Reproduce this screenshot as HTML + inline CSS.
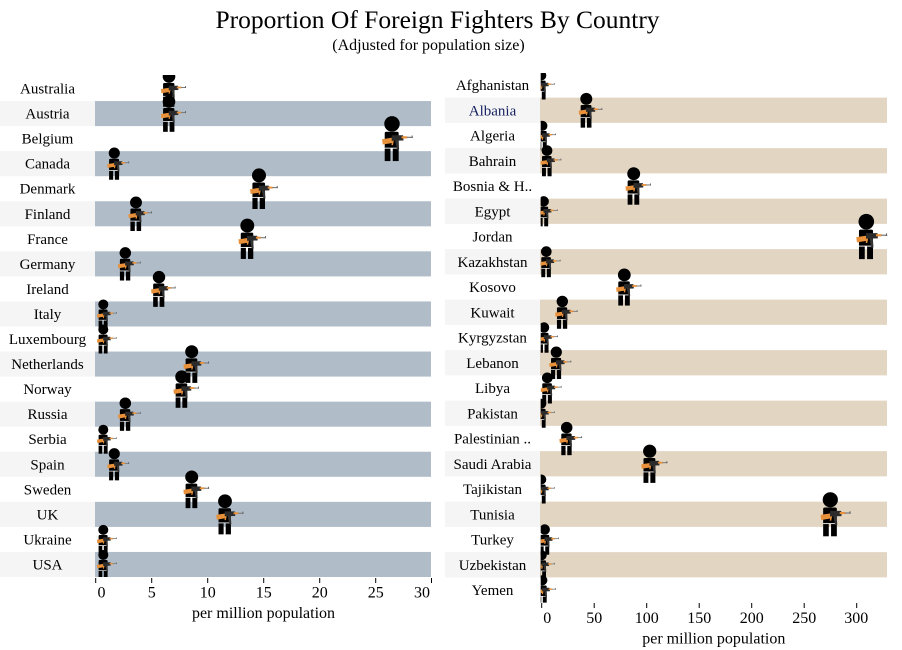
<!DOCTYPE html>
<html>
<head>
<meta charset="utf-8">
<style>
html,body{margin:0;padding:0;background:#fff;}
svg{display:block;}
text{font-family:"Liberation Serif","Times New Roman",serif;fill:#000;}
.lab{font-size:15px;text-anchor:middle;}
.tk{font-size:16px;text-anchor:middle;}
</style>
</head>
<body>
<svg width="902" height="650" viewBox="0 0 902 650" xmlns="http://www.w3.org/2000/svg">
<defs>
  <g id="fig">
    <circle cx="0" cy="-0.95" r="0.5" fill="#000"/>
    <path d="M-0.47,-0.34 Q-0.47,-0.44 -0.37,-0.44 L0.33,-0.44 Q0.43,-0.44 0.43,-0.34 L0.43,0.6 L-0.47,0.6 Z" fill="#000"/>
    <rect x="-0.47" y="0.64" width="0.37" height="0.81" fill="#000"/>
    <rect x="0.05" y="0.64" width="0.38" height="0.81" fill="#000"/>
    <rect x="-0.47" y="0.59" width="0.9" height="0.055" fill="#fff"/>
    <polygon points="-0.64,0.04 0.02,-0.06 0.02,0.28 -0.6,0.38" fill="#e8913a"/>
    <path d="M-0.02,-0.22 L0.7,-0.22 L0.74,-0.14 L0.74,0.12 L-0.02,0.14 Z" fill="#2b2b2b"/>
    <rect x="0.62" y="-0.15" width="0.36" height="0.14" fill="#e8913a"/>
    <rect x="0.96" y="-0.12" width="0.38" height="0.08" fill="#7a7a7a"/>
    <rect x="1.27" y="-0.2" width="0.06" height="0.16" fill="#555"/>
    <path d="M0.2,0.12 L0.42,0.12 L0.46,0.7 L0.32,0.72 Z" fill="#333"/>
    <polygon points="0.02,0.14 0.12,0.14 0.06,0.42 -0.04,0.42" fill="#e8913a"/>
  </g>
  <clipPath id="cl"><rect x="95" y="75" width="337" height="502"/></clipPath>
  <clipPath id="cr"><rect x="540.7" y="73" width="347" height="529.6"/></clipPath>
</defs>

<!-- Titles -->
<text x="437.5" y="28" style="font-size:25.5px" text-anchor="middle">Proportion Of Foreign Fighters By Country</text>
<text x="428.5" y="50" style="font-size:16px" text-anchor="middle">(Adjusted for population size)</text>

<!-- LEFT CHART -->
<g fill="#f5f5f5">
  <rect x="0" y="101.05" width="95" height="25.05"/>
  <rect x="0" y="151.15" width="95" height="25.05"/>
  <rect x="0" y="201.25" width="95" height="25.05"/>
  <rect x="0" y="251.35" width="95" height="25.05"/>
  <rect x="0" y="301.45" width="95" height="25.05"/>
  <rect x="0" y="351.55" width="95" height="25.05"/>
  <rect x="0" y="401.65" width="95" height="25.05"/>
  <rect x="0" y="451.75" width="95" height="25.05"/>
  <rect x="0" y="501.85" width="95" height="25.05"/>
  <rect x="0" y="551.95" width="95" height="25.05"/>
</g>
<g fill="#b0bcc8">
  <rect x="95" y="101.05" width="336" height="25.05"/>
  <rect x="95" y="151.15" width="336" height="25.05"/>
  <rect x="95" y="201.25" width="336" height="25.05"/>
  <rect x="95" y="251.35" width="336" height="25.05"/>
  <rect x="95" y="301.45" width="336" height="25.05"/>
  <rect x="95" y="351.55" width="336" height="25.05"/>
  <rect x="95" y="401.65" width="336" height="25.05"/>
  <rect x="95" y="451.75" width="336" height="25.05"/>
  <rect x="95" y="501.85" width="336" height="25.05"/>
  <rect x="95" y="551.95" width="336" height="25.05"/>
</g>
<g class="lab">
  <text class="lab" x="47.5" y="93.5">Australia</text>
  <text class="lab" x="47.5" y="118.55">Austria</text>
  <text class="lab" x="47.5" y="143.6">Belgium</text>
  <text class="lab" x="47.5" y="168.65">Canada</text>
  <text class="lab" x="47.5" y="193.7">Denmark</text>
  <text class="lab" x="47.5" y="218.75">Finland</text>
  <text class="lab" x="47.5" y="243.8">France</text>
  <text class="lab" x="47.5" y="268.85">Germany</text>
  <text class="lab" x="47.5" y="293.9">Ireland</text>
  <text class="lab" x="47.5" y="318.95">Italy</text>
  <text class="lab" x="47.5" y="344">Luxembourg</text>
  <text class="lab" x="47.5" y="369.05">Netherlands</text>
  <text class="lab" x="47.5" y="394.1">Norway</text>
  <text class="lab" x="47.5" y="419.15">Russia</text>
  <text class="lab" x="47.5" y="444.2">Serbia</text>
  <text class="lab" x="47.5" y="469.25">Spain</text>
  <text class="lab" x="47.5" y="494.3">Sweden</text>
  <text class="lab" x="47.5" y="519.35">UK</text>
  <text class="lab" x="47.5" y="544.4">Ukraine</text>
  <text class="lab" x="47.5" y="569.45">USA</text>
</g>
<g clip-path="url(#cl)">
  <use href="#fig" transform="translate(169,88.5) scale(12.6)"/>
  <use href="#fig" transform="translate(169,113.55) scale(12.6)"/>
  <use href="#fig" transform="translate(392,138.6) scale(15.5)"/>
  <use href="#fig" transform="translate(114.3,163.65) scale(11.1)"/>
  <use href="#fig" transform="translate(259,188.7) scale(14)"/>
  <use href="#fig" transform="translate(136,213.75) scale(11.9)"/>
  <use href="#fig" transform="translate(247.3,238.8) scale(13.9)"/>
  <use href="#fig" transform="translate(125.3,263.85) scale(11.5)"/>
  <use href="#fig" transform="translate(159,288.9) scale(12.4)"/>
  <use href="#fig" transform="translate(103.3,313.95) scale(10)"/>
  <use href="#fig" transform="translate(103.3,339) scale(10)"/>
  <use href="#fig" transform="translate(191.7,364.05) scale(13)"/>
  <use href="#fig" transform="translate(181.7,389.1) scale(12.9)"/>
  <use href="#fig" transform="translate(125.3,414.15) scale(11.5)"/>
  <use href="#fig" transform="translate(103.3,439.2) scale(10)"/>
  <use href="#fig" transform="translate(114.3,464.25) scale(11.1)"/>
  <use href="#fig" transform="translate(191.7,489.3) scale(13)"/>
  <use href="#fig" transform="translate(225,514.35) scale(13.8)"/>
  <use href="#fig" transform="translate(103.3,539.4) scale(10)"/>
  <use href="#fig" transform="translate(103.3,564.45) scale(10)"/>
</g>
<g stroke="#000" stroke-width="1">
  <line x1="95.7" y1="578" x2="95.7" y2="583"/>
  <line x1="151.7" y1="578" x2="151.7" y2="583"/>
  <line x1="207.7" y1="578" x2="207.7" y2="583"/>
  <line x1="263.7" y1="578" x2="263.7" y2="583"/>
  <line x1="319.7" y1="578" x2="319.7" y2="583"/>
  <line x1="375.7" y1="578" x2="375.7" y2="583"/>
  <line x1="431.5" y1="578" x2="431.5" y2="583"/>
</g>
<text class="tk" x="97.5" y="597.5" text-anchor="start" style="text-anchor:start">0</text>
<text class="tk" x="151.7" y="597.5">5</text>
<text class="tk" x="207.7" y="597.5">10</text>
<text class="tk" x="263.7" y="597.5">15</text>
<text class="tk" x="319.7" y="597.5">20</text>
<text class="tk" x="375.7" y="597.5">25</text>
<text class="tk" x="430" y="597.5" style="text-anchor:end">30</text>
<text class="tk" x="263.5" y="618">per million population</text>

<!-- RIGHT CHART -->
<g fill="#f5f5f5">
  <rect x="445" y="97.625" width="95" height="25.25"/>
  <rect x="445" y="148.125" width="95" height="25.25"/>
  <rect x="445" y="198.625" width="95" height="25.25"/>
  <rect x="445" y="249.125" width="95" height="25.25"/>
  <rect x="445" y="299.625" width="95" height="25.25"/>
  <rect x="445" y="350.125" width="95" height="25.25"/>
  <rect x="445" y="400.625" width="95" height="25.25"/>
  <rect x="445" y="451.125" width="95" height="25.25"/>
  <rect x="445" y="501.625" width="95" height="25.25"/>
  <rect x="445" y="552.125" width="95" height="25.25"/>
</g>
<g fill="#e2d6c3">
  <rect x="540" y="97.625" width="347" height="25.25"/>
  <rect x="540" y="148.125" width="347" height="25.25"/>
  <rect x="540" y="198.625" width="347" height="25.25"/>
  <rect x="540" y="249.125" width="347" height="25.25"/>
  <rect x="540" y="299.625" width="347" height="25.25"/>
  <rect x="540" y="350.125" width="347" height="25.25"/>
  <rect x="540" y="400.625" width="347" height="25.25"/>
  <rect x="540" y="451.125" width="347" height="25.25"/>
  <rect x="540" y="501.625" width="347" height="25.25"/>
  <rect x="540" y="552.125" width="347" height="25.25"/>
</g>
<g>
  <text class="lab" x="492.5" y="90">Afghanistan</text>
  <text class="lab" x="492.5" y="115.25" style="fill:#14205e">Albania</text>
  <text class="lab" x="492.5" y="140.5">Algeria</text>
  <text class="lab" x="492.5" y="165.75">Bahrain</text>
  <text class="lab" x="492.5" y="191">Bosnia &amp; H..</text>
  <text class="lab" x="492.5" y="216.25">Egypt</text>
  <text class="lab" x="492.5" y="241.5">Jordan</text>
  <text class="lab" x="492.5" y="266.75">Kazakhstan</text>
  <text class="lab" x="492.5" y="292">Kosovo</text>
  <text class="lab" x="492.5" y="317.25">Kuwait</text>
  <text class="lab" x="492.5" y="342.5">Kyrgyzstan</text>
  <text class="lab" x="492.5" y="367.75">Lebanon</text>
  <text class="lab" x="492.5" y="393">Libya</text>
  <text class="lab" x="492.5" y="418.25">Pakistan</text>
  <text class="lab" x="492.5" y="443.5">Palestinian ..</text>
  <text class="lab" x="492.5" y="468.75">Saudi Arabia</text>
  <text class="lab" x="492.5" y="494">Tajikistan</text>
  <text class="lab" x="492.5" y="519.25">Tunisia</text>
  <text class="lab" x="492.5" y="544.5">Turkey</text>
  <text class="lab" x="492.5" y="569.75">Uzbekistan</text>
  <text class="lab" x="492.5" y="595">Yemen</text>
</g>
<g clip-path="url(#cr)">
  <use href="#fig" transform="translate(541.3,85) scale(10)"/>
  <use href="#fig" transform="translate(586.3,110.25) scale(12)"/>
  <use href="#fig" transform="translate(542.3,135.5) scale(10.2)"/>
  <use href="#fig" transform="translate(547,160.75) scale(10.7)"/>
  <use href="#fig" transform="translate(633.7,186) scale(12.9)"/>
  <use href="#fig" transform="translate(543.7,211.25) scale(10.4)"/>
  <use href="#fig" transform="translate(866.3,236.5) scale(15.6)"/>
  <use href="#fig" transform="translate(546.3,261.75) scale(10.65)"/>
  <use href="#fig" transform="translate(624.3,287) scale(12.8)"/>
  <use href="#fig" transform="translate(562.3,312.25) scale(11.4)"/>
  <use href="#fig" transform="translate(544,337.5) scale(10.5)"/>
  <use href="#fig" transform="translate(556.3,362.75) scale(11.2)"/>
  <use href="#fig" transform="translate(547.3,388) scale(10.7)"/>
  <use href="#fig" transform="translate(541.3,413.25) scale(10)"/>
  <use href="#fig" transform="translate(566.7,438.5) scale(11.5)"/>
  <use href="#fig" transform="translate(649.7,463.75) scale(13.2)"/>
  <use href="#fig" transform="translate(541.3,489) scale(10)"/>
  <use href="#fig" transform="translate(830.3,514.25) scale(15.2)"/>
  <use href="#fig" transform="translate(544.7,539.5) scale(10.5)"/>
  <use href="#fig" transform="translate(541.7,564.75) scale(10)"/>
  <use href="#fig" transform="translate(542.3,590) scale(10.2)"/>
</g>
<g stroke="#000" stroke-width="1">
  <line x1="541.7" y1="603" x2="541.7" y2="608"/>
  <line x1="594.2" y1="603" x2="594.2" y2="608"/>
  <line x1="646.7" y1="603" x2="646.7" y2="608"/>
  <line x1="699.2" y1="603" x2="699.2" y2="608"/>
  <line x1="751.7" y1="603" x2="751.7" y2="608"/>
  <line x1="804.2" y1="603" x2="804.2" y2="608"/>
  <line x1="856.7" y1="603" x2="856.7" y2="608"/>
</g>
<text class="tk" x="543.3" y="623" style="text-anchor:start">0</text>
<text class="tk" x="594.2" y="623">50</text>
<text class="tk" x="646.7" y="623">100</text>
<text class="tk" x="699.2" y="623">150</text>
<text class="tk" x="751.7" y="623">200</text>
<text class="tk" x="804.2" y="623">250</text>
<text class="tk" x="856.2" y="623">300</text>
<text class="tk" x="713.8" y="643.5">per million population</text>
</svg>
</body>
</html>
